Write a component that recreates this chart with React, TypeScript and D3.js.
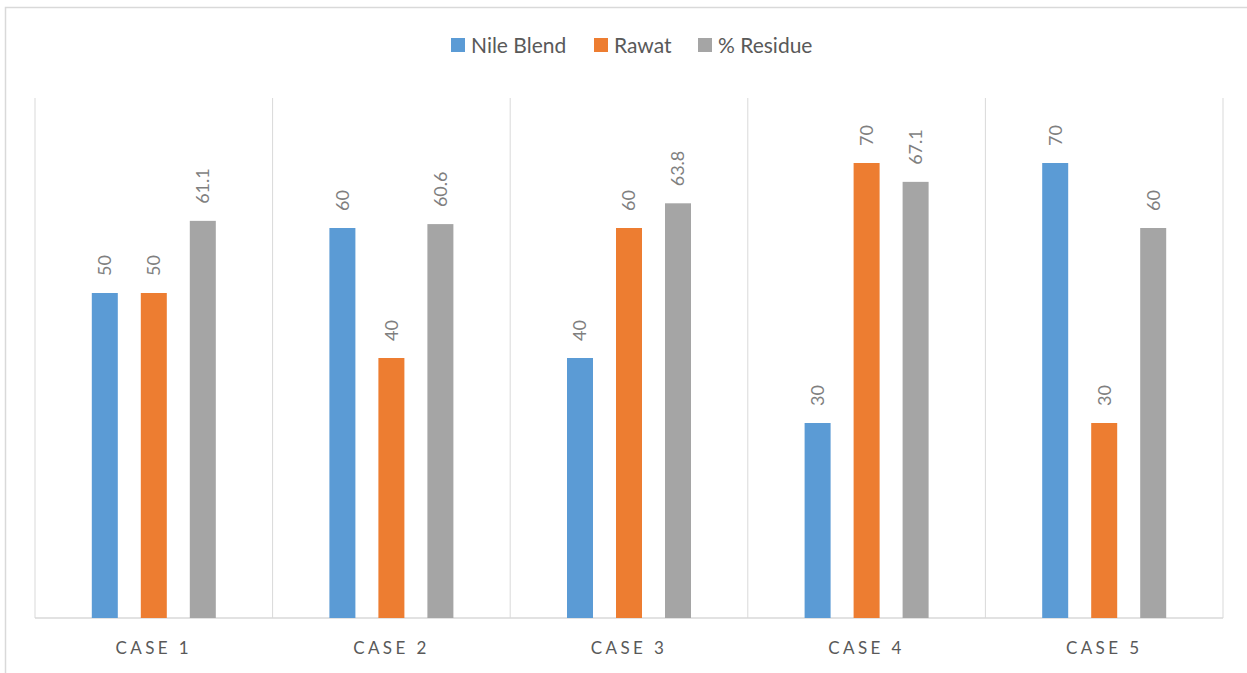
import React from "react";
import * as d3 from "d3";

const categories = ["CASE 1", "CASE 2", "CASE 3", "CASE 4", "CASE 5"];
const seriesNames = ["Nile Blend", "Rawat", "% Residue"];
const nileBlend = [50, 60, 40, 30, 70];
const rawat = [50, 40, 60, 70, 30];
const residue = [61.1, 60.6, 63.8, 67.1, 60];
const colors = ["#5B9BD5", "#ED7D31", "#A5A5A5"];

const W = 1247;
const H = 673;
const left = 35, right = 1223, top = 98, bottom = 618;

export default function App() {
  const series = [nileBlend, rawat, residue];
  const x0 = d3.scaleBand<string>().domain(categories).range([left, right]);
  const y = d3.scaleLinear().domain([0, 80]).range([bottom, top]);
  const step = 49;
  const barW = 26;
  const font = "Lato, 'Open Sans', sans-serif";
  const legendX = [451, 594, 698];

  return (
    <svg width={W} height={H} style={{ position: "absolute", left: 0, top: 0 }}>
      <rect x={0} y={0} width={W} height={H} fill="#fff" />
      <rect x={5.5} y={7.5} width={1260} height={700} fill="none" stroke="#d9d9d9" strokeWidth={1.5} />
      {[...categories.map((c) => x0(c)!), right].map((xv, i) => (
        <line key={i} x1={xv} x2={xv} y1={top} y2={bottom} stroke="#d9d9d9" strokeWidth={1} />
      ))}
      <line x1={left} x2={right} y1={bottom} y2={bottom} stroke="#d9d9d9" strokeWidth={1.5} />
      {categories.map((c, ci) => {
        const cx = x0(c)! + x0.bandwidth() / 2;
        return (
          <g key={c}>
            {series.map((s, si) => {
              const bx = cx + (si - 1) * step - barW / 2;
              const v = s[ci];
              const by = y(v);
              const lx = bx + barW / 2;
              const ly = by - 17;
              return (
                <g key={si}>
                  <rect x={bx} y={by} width={barW} height={bottom - by} fill={colors[si]} />
                  <text
                    transform={`translate(${lx},${ly}) rotate(-90)`}
                    dy="0.36em"
                    fontSize={18}
                    fill="#7f7f7f"
                    fontFamily={font}
                    textAnchor="start"
                  >
                    {String(v)}
                  </text>
                </g>
              );
            })}
            <text x={cx} y={654} textAnchor="middle" fontSize={17} fill="#595959" fontFamily={font} letterSpacing={3.4}>
              {c}
            </text>
          </g>
        );
      })}
      {seriesNames.map((n, i) => (
        <g key={n}>
          <rect x={legendX[i]} y={38} width={14} height={14} fill={colors[i]} />
          <text x={legendX[i] + 20} y={53} fontSize={21} fill="#595959" fontFamily={font}>
            {n}
          </text>
        </g>
      ))}
    </svg>
  );
}
